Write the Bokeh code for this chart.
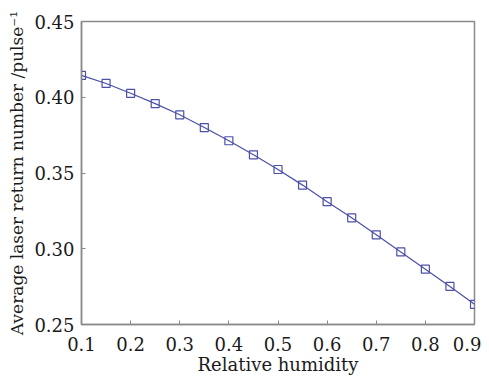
from bokeh.plotting import figure
from bokeh.models import FixedTicker, CustomJSTickFormatter, Range1d
from bokeh.embed import file_html
from bokeh.resources import INLINE

humidity = [0.10, 0.15, 0.20, 0.25, 0.30, 0.35, 0.40, 0.45, 0.50,
            0.55, 0.60, 0.65, 0.70, 0.75, 0.80, 0.85, 0.90]
return_number = [0.4144, 0.4091, 0.4026, 0.3958, 0.3884, 0.3800, 0.3713, 0.3620, 0.3523,
                 0.3420, 0.3311, 0.3204, 0.3092, 0.2979, 0.2865, 0.2751, 0.2633]
x_ticks = [0.1, 0.2, 0.3, 0.4, 0.5, 0.6, 0.7, 0.8, 0.9]
y_ticks = [0.25, 0.30, 0.35, 0.40, 0.45]

FONT = "DejaVu Serif"
AXIS_GRAY = "#8a8a8a"
LINE_BLUE = "#4b50a8"
TEXT = "#1a1a1a"

p = figure(width=481, height=377, output_backend="svg", toolbar_location=None,
           x_range=Range1d(0.1, 0.9), y_range=Range1d(0.25, 0.45),
           min_border_left=81, min_border_top=21, min_border_right=7, min_border_bottom=51)

p.line(humidity, return_number, line_color=LINE_BLUE, line_width=1.2)
p.scatter(humidity, return_number, marker="square", size=8, fill_color=None,
          line_color=LINE_BLUE, line_width=1.2)

p.grid.visible = False
p.outline_line_color = AXIS_GRAY
p.outline_line_width = 1.5

for ax in (p.xaxis[0], p.yaxis[0]):
    ax.axis_line_color = AXIS_GRAY
    ax.axis_line_width = 1.5
    ax.major_tick_line_color = AXIS_GRAY
    ax.major_tick_in = 4
    ax.major_tick_out = 0
    ax.minor_tick_line_color = None
    ax.major_label_text_font = FONT
    ax.major_label_text_font_size = "18px"
    ax.major_label_text_color = TEXT
    ax.axis_label_text_font = FONT
    ax.axis_label_text_font_size = "18px"
    ax.axis_label_text_font_style = "normal"
    ax.axis_label_text_color = TEXT

p.yaxis.axis_label_text_font_size = "17px"
p.xaxis.ticker = FixedTicker(ticks=x_ticks)
p.yaxis.ticker = FixedTicker(ticks=y_ticks)
p.xaxis.formatter = CustomJSTickFormatter(code="return tick.toFixed(1);")
p.yaxis.formatter = CustomJSTickFormatter(code="return tick.toFixed(2);")
p.xaxis.axis_label = "Relative humidity"
p.yaxis.axis_label = "Average laser return number /pulse\u207b\u00b9"
p.xaxis.major_label_standoff = 12
p.yaxis.major_label_standoff = 7
p.xaxis.axis_label_standoff = 0
p.yaxis.axis_label_standoff = 4

open("out.html", "w").write(file_html(p, INLINE))
